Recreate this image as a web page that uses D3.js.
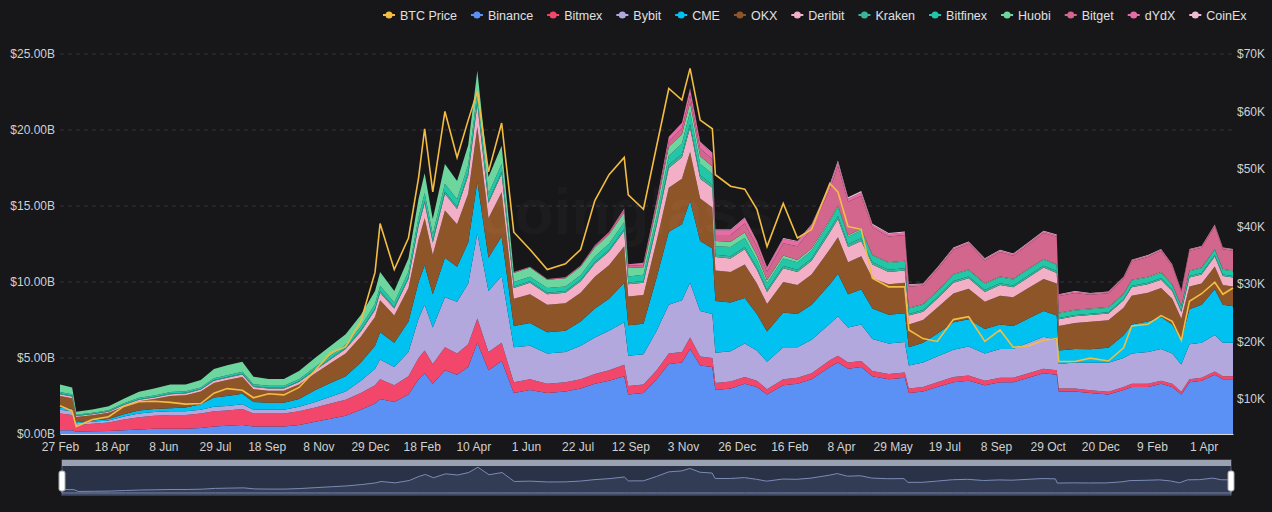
<!DOCTYPE html>
<html>
<head>
<meta charset="utf-8">
<script src="https://cdn.jsdelivr.net/npm/d3@7"></script>
<style>
  body { margin: 0; background: #17171a; }
  svg text { font-family: "Liberation Sans", Arial, sans-serif; }
</style>
</head>
<body>
<div id="chart"></div>
<script>
const width = 1272
const height = 512
const margin = { top: 54, right: 39, bottom: 78, left: 60 }
const chartWidth = width - margin.left - margin.right
const chartHeight = height - margin.top - margin.bottom

const keys = ['Binance', 'Bitmex', 'Bybit', 'CME', 'OKX', 'Deribit', 'Kraken', 'Bitfinex', 'Huobi', 'Bitget', 'dYdX', 'CoinEx']

const colors = {
  'BTC Price': '#f2bd42',
  Binance: '#5b91f5',
  Bitmex: '#f2466b',
  Bybit: '#b3a8de',
  CME: '#00c1f0',
  OKX: '#8e5529',
  Deribit: '#f3afc6',
  Kraken: '#3bb39a',
  Bitfinex: '#22c7a9',
  Huobi: '#6dd69f',
  Bitget: '#d3668d',
  dYdX: '#e66ba6',
  CoinEx: '#f1bcd3'
}

// open interest in $B per exchange, BTC price in $K
const rows = [
  ['2020-02-27', .25, 1.1, .25, .15, .75, .12, .04, .1, .5, 0, 0, 0, 8.8],
  ['2020-03-10', .25, 1.0, .25, .15, .7, .12, .04, .1, .45, 0, 0, 0, 7.9],
  ['2020-03-14', .15, .45, .1, .07, .35, .06, .03, .06, .2, 0, 0, 0, 5.2],
  ['2020-03-30', .18, .5, .12, .08, .35, .07, .03, .06, .22, 0, 0, 0, 6.4],
  ['2020-04-15', .2, .55, .14, .1, .4, .08, .03, .07, .25, 0, 0, 0, 6.9],
  ['2020-04-30', .25, .7, .2, .15, .5, .1, .04, .08, .3, 0, 0, 0, 8.7],
  ['2020-05-15', .3, .8, .25, .2, .6, .1, .04, .09, .4, 0, 0, 0, 9.5],
  ['2020-05-30', .35, .85, .25, .2, .65, .1, .04, .1, .45, 0, 0, 0, 9.6],
  ['2020-06-15', .35, .9, .25, .2, .8, .12, .04, .1, .5, 0, 0, 0, 9.4],
  ['2020-06-30', .35, .9, .25, .25, .8, .12, .04, .1, .45, 0, 0, 0, 9.1],
  ['2020-07-15', .4, .95, .25, .35, .85, .12, .04, .1, .5, 0, 0, 0, 9.2],
  ['2020-07-28', .5, 1.0, .3, .6, .95, .15, .05, .12, .6, 0, 0, 0, 11.0],
  ['2020-08-10', .55, 1.0, .3, .65, 1.05, .15, .05, .12, .65, 0, 0, 0, 11.8],
  ['2020-08-25', .6, 1.05, .3, .7, 1.1, .17, .05, .13, .65, 0, 0, 0, 11.5],
  ['2020-09-05', .5, .85, .25, .5, .85, .15, .05, .12, .5, 0, 0, 0, 10.2],
  ['2020-09-20', .5, .85, .25, .45, .8, .15, .05, .12, .45, 0, 0, 0, 10.9],
  ['2020-10-05', .5, .85, .25, .45, .8, .15, .05, .12, .45, 0, 0, 0, 10.7],
  ['2020-10-20', .6, .9, .3, .5, .95, .17, .05, .13, .55, 0, 0, 0, 12.0],
  ['2020-11-05', .8, .95, .35, .8, 1.1, .2, .06, .15, .6, 0, 0, 0, 15.0],
  ['2020-11-20', 1.0, 1.0, .45, .9, 1.3, .25, .06, .18, .65, 0, 0, 0, 18.0],
  ['2020-12-05', 1.2, 1.05, .55, 1.0, 1.5, .3, .07, .2, .7, 0, 0, 0, 19.1],
  ['2020-12-20', 1.6, 1.1, .8, 1.2, 1.7, .35, .08, .25, .75, 0, 0, 0, 23.5],
  ['2021-01-03', 2.0, 1.2, 1.1, 1.5, 1.9, .45, .1, .3, .85, 0, 0, 0, 32.0],
  ['2021-01-08', 2.3, 1.3, 1.3, 1.8, 2.1, .5, .1, .35, .9, 0, 0, 0, 40.5],
  ['2021-01-22', 2.1, 1.1, 1.2, 1.6, 1.8, .45, .1, .3, .75, 0, 0, 0, 32.5],
  ['2021-02-05', 2.6, 1.2, 1.6, 2.0, 2.2, .6, .12, .35, .9, 0, 0, 0, 38.0],
  ['2021-02-15', 3.6, 1.4, 2.6, 2.4, 2.8, .9, .15, .45, 1.2, 0, 0, 0, 48.5],
  ['2021-02-21', 4.0, 1.5, 3.0, 2.6, 3.1, 1.0, .15, .5, 1.3, 0, 0, 0, 57.0],
  ['2021-03-01', 3.3, 1.3, 2.4, 2.2, 2.6, .8, .14, .4, 1.0, 0, 0, 0, 46.0],
  ['2021-03-13', 4.2, 1.5, 3.3, 2.6, 3.1, 1.1, .16, .5, 1.3, 0, 0, 0, 60.0],
  ['2021-03-25', 3.9, 1.4, 3.4, 2.3, 2.8, 1.0, .15, .5, 1.2, 0, 0, 0, 52.0],
  ['2021-04-05', 4.4, 1.5, 4.0, 2.7, 3.2, 1.2, .17, .55, 1.3, 0, 0, 0, 58.5],
  ['2021-04-14', 6.0, 1.6, 5.6, 3.4, 3.6, 1.5, .2, .6, 1.4, 0, 0, 0, 63.5],
  ['2021-04-25', 4.2, 1.2, 4.0, 2.2, 2.6, 1.0, .15, .45, 1.1, 0, 0, 0, 49.5],
  ['2021-05-08', 4.8, 1.2, 4.4, 2.6, 2.9, 1.2, .16, .5, 1.2, 0, 0, 0, 58.0],
  ['2021-05-20', 2.7, .7, 2.3, 1.4, 1.8, .7, .1, .3, .6, .05, 0, 0, 39.0],
  ['2021-06-05', 2.9, .7, 2.2, 1.5, 1.9, .75, .1, .3, .6, .05, 0, 0, 36.0],
  ['2021-06-22', 2.7, .6, 2.0, 1.4, 1.8, .7, .1, .3, .55, .05, 0, 0, 32.5],
  ['2021-07-10', 2.8, .6, 2.0, 1.4, 1.8, .7, .1, .3, .55, .06, 0, 0, 33.5],
  ['2021-07-25', 3.0, .6, 2.2, 1.6, 1.9, .75, .1, .3, .55, .08, 0, 0, 36.0],
  ['2021-08-08', 3.3, .65, 2.4, 1.9, 2.1, .85, .12, .35, .6, .1, .05, 0, 44.5],
  ['2021-08-22', 3.5, .7, 2.6, 2.1, 2.2, .9, .12, .4, .6, .12, .05, 0, 49.0],
  ['2021-09-06', 3.8, .75, 2.8, 2.6, 2.4, 1.0, .13, .45, .65, .15, .1, 0, 52.0],
  ['2021-09-10', 2.6, .55, 2.0, 2.0, 1.9, .8, .12, .4, .55, .15, .1, 0, 45.5],
  ['2021-09-25', 2.7, .55, 2.0, 2.0, 1.9, .8, .12, .4, .5, .15, .15, 0, 43.0],
  ['2021-10-08', 3.6, .6, 2.6, 3.5, 2.4, 1.0, .15, .5, .55, .25, .2, 0, 54.0],
  ['2021-10-20', 4.6, .7, 3.2, 4.8, 2.9, 1.3, .2, .6, .6, .35, .3, 0, 64.0],
  ['2021-11-02', 4.7, .7, 3.4, 5.0, 3.0, 1.4, .22, .7, .6, .4, .35, 0, 62.0],
  ['2021-11-10', 5.6, .75, 3.6, 5.4, 3.2, 1.6, .25, .8, .6, .5, .4, .05, 67.5],
  ['2021-11-20', 4.5, .6, 3.0, 4.6, 2.8, 1.3, .22, .75, .5, .5, .4, .05, 58.5],
  ['2021-12-02', 4.4, .6, 2.9, 4.3, 2.7, 1.3, .2, .7, .5, .5, .35, .05, 57.0],
  ['2021-12-05', 2.9, .45, 2.0, 3.4, 2.0, .9, .15, .55, .35, .4, .3, .05, 49.0],
  ['2021-12-20', 3.0, .45, 2.0, 3.2, 2.0, .9, .15, .6, .35, .45, .3, .05, 47.0],
  ['2022-01-03', 3.3, .45, 2.2, 3.0, 2.2, 1.0, .15, .6, .35, .6, .35, .05, 46.5],
  ['2022-01-15', 3.1, .4, 2.0, 2.4, 2.0, .9, .15, .5, .3, .6, .3, .05, 43.0],
  ['2022-01-25', 2.6, .35, 1.8, 2.0, 1.8, .8, .12, .45, .2, .55, .25, .05, 36.5],
  ['2022-02-10', 3.2, .4, 2.1, 2.3, 2.0, .9, .15, .5, .2, .8, .3, .05, 44.0],
  ['2022-02-24', 3.3, .4, 2.0, 2.2, 1.9, .85, .15, .5, .15, .9, .3, .05, 38.0],
  ['2022-03-10', 3.6, .4, 2.2, 2.3, 2.0, .9, .15, .5, .15, 1.3, .25, .05, 39.5],
  ['2022-03-28', 4.4, .45, 2.4, 2.6, 2.3, 1.1, .2, .55, .1, 2.0, .25, .1, 47.5],
  ['2022-04-05', 4.7, .45, 2.6, 2.8, 2.4, 1.2, .2, .6, .1, 2.6, .25, .1, 46.0],
  ['2022-04-15', 4.3, .4, 2.3, 2.2, 2.1, 1.0, .18, .5, .1, 2.2, .2, .1, 40.0],
  ['2022-04-28', 4.4, .4, 2.4, 2.3, 2.2, 1.0, .18, .5, .1, 2.2, .2, .1, 39.5],
  ['2022-05-09', 3.8, .35, 2.1, 2.0, 2.0, .9, .15, .45, .05, 1.8, .15, .08, 31.0],
  ['2022-05-25', 3.6, .35, 2.0, 1.9, 2.0, .8, .15, .45, .05, 1.7, .15, .08, 29.5],
  ['2022-06-10', 3.7, .35, 2.0, 1.9, 2.0, .8, .15, .45, .05, 1.7, .15, .08, 29.5],
  ['2022-06-14', 2.7, .3, 1.5, 1.2, 1.5, .6, .1, .35, .05, 1.4, .1, .05, 22.0],
  ['2022-06-28', 2.8, .3, 1.6, 1.3, 1.5, .55, .1, .35, .05, 1.2, .1, .05, 20.5],
  ['2022-07-12', 3.1, .3, 1.7, 1.5, 1.7, .6, .1, .35, .05, 1.4, .1, .05, 20.0],
  ['2022-07-28', 3.4, .35, 1.8, 1.8, 1.9, .7, .12, .4, .05, 1.6, .1, .05, 23.8],
  ['2022-08-12', 3.5, .35, 1.9, 1.8, 2.0, .7, .12, .4, .05, 1.7, .1, .05, 24.3],
  ['2022-08-28', 3.2, .3, 1.8, 1.6, 1.8, .65, .12, .4, .05, 1.5, .1, .05, 20.0],
  ['2022-09-12', 3.4, .3, 1.9, 1.6, 1.9, .7, .12, .4, .05, 1.6, .1, .05, 22.0],
  ['2022-09-25', 3.4, .3, 1.9, 1.5, 1.9, .65, .12, .4, .05, 1.5, .1, .05, 19.0],
  ['2022-10-10', 3.7, .3, 2.0, 1.6, 2.0, .7, .12, .4, .05, 1.6, .1, .05, 19.2],
  ['2022-10-25', 4.0, .3, 2.1, 1.7, 2.1, .75, .12, .4, .05, 1.7, .1, .05, 20.2],
  ['2022-11-07', 3.9, .3, 2.0, 1.6, 2.1, .7, .12, .4, .05, 1.8, .1, .05, 20.5],
  ['2022-11-09', 2.8, .2, 1.6, .9, 1.6, .45, .08, .3, .05, 1.1, .08, .04, 16.5],
  ['2022-11-25', 2.8, .2, 1.7, .9, 1.7, .45, .08, .3, .05, 1.1, .08, .04, 16.5],
  ['2022-12-10', 2.7, .18, 1.8, .9, 1.8, .45, .08, .3, .05, .9, .08, .04, 17.1],
  ['2022-12-28', 2.6, .18, 1.9, 1.0, 1.8, .45, .08, .3, .05, .9, .08, .04, 16.6],
  ['2023-01-12', 2.9, .2, 1.9, 1.5, 1.8, .5, .08, .3, .05, 1.0, .08, .04, 18.9],
  ['2023-01-20', 3.1, .2, 2.0, 1.9, 1.9, .55, .1, .35, .05, 1.2, .08, .04, 22.7],
  ['2023-02-05', 3.1, .2, 2.1, 2.0, 1.9, .55, .1, .35, .05, 1.3, .08, .04, 23.0],
  ['2023-02-18', 3.3, .2, 2.1, 2.1, 1.9, .55, .1, .35, .05, 1.4, .08, .04, 24.5],
  ['2023-03-01', 3.1, .2, 2.0, 1.9, 1.7, .5, .1, .3, .05, 1.2, .08, .04, 23.5],
  ['2023-03-10', 2.6, .18, 1.8, 1.6, 1.4, .45, .08, .28, .05, .9, .08, .04, 20.2],
  ['2023-03-18', 3.4, .2, 2.3, 2.3, 1.5, .6, .1, .3, .05, 1.3, .08, .04, 27.0],
  ['2023-03-30', 3.5, .2, 2.3, 2.5, 1.4, .6, .1, .3, .05, 1.3, .08, .04, 28.3],
  ['2023-04-12', 3.9, .22, 2.4, 3.0, 1.5, .65, .1, .35, .05, 1.5, .08, .04, 30.3],
  ['2023-04-20', 3.6, .2, 2.2, 2.5, 1.3, .6, .1, .3, .05, 1.3, .08, .04, 28.2],
  ['2023-04-30', 3.6, .2, 2.2, 2.4, 1.3, .6, .1, .3, .05, 1.3, .08, .04, 29.3]
]

const parse = d3.timeParse('%Y-%m-%d')
const data = rows.map((r) => {
  const d = { date: parse(r[0]), btc: r[13] * 1000 }
  keys.forEach((k, i) => { d[k] = r[i + 1] * 1e9 })
  d.total = d3.sum(keys, (k) => d[k])
  return d
})

const tickDates = ['2020-02-27', '2020-04-18', '2020-06-08', '2020-07-29', '2020-09-18', '2020-11-08',
  '2020-12-29', '2021-02-18', '2021-04-10', '2021-06-01', '2021-07-22', '2021-09-12', '2021-11-03',
  '2021-12-26', '2022-02-16', '2022-04-08', '2022-05-29', '2022-07-19', '2022-09-08', '2022-10-29',
  '2022-12-20', '2023-02-09', '2023-04-01'].map(parse)

const xScale = d3.scaleTime()
  .domain([parse('2020-02-27'), parse('2023-04-30')])
  .range([0, chartWidth])

const yScale = d3.scaleLinear().domain([0, 25e9]).range([chartHeight, 0])
const yPrice = d3.scaleLinear().domain([3900, 70000]).range([chartHeight, 0])

const svg = d3.select('#chart').append('svg')
  .attr('width', width).attr('height', height)

const container = svg.append('g')
  .attr('transform', `translate(${margin.left},${margin.top})`)

// grid
container.append('g')
  .selectAll('line')
  .data(d3.range(5e9, 25e9 + 1, 5e9))
  .enter().append('line')
  .attr('x1', 0).attr('x2', chartWidth)
  .attr('y1', (d) => yScale(d)).attr('y2', (d) => yScale(d))
  .attr('stroke', '#333338')
  .attr('stroke-dasharray', '4,4')

// stacked areas
const series = d3.stack().keys(keys)(data)
const area = d3.area()
  .x((d) => xScale(d.data.date))
  .y0((d) => yScale(d[0]))
  .y1((d) => yScale(d[1]))

container.append('g')
  .selectAll('path')
  .data(series)
  .enter().append('path')
  .attr('d', area)
  .attr('fill', (d) => colors[d.key])

// watermark
container.append('text')
  .attr('x', chartWidth / 2 - 20).attr('y', chartHeight / 2 - 10)
  .attr('text-anchor', 'middle')
  .attr('font-size', 64).attr('font-weight', 'bold')
  .attr('fill', 'rgba(255,255,255,0.025)')
  .text('coinglass')

// btc price
const line = d3.line()
  .x((d) => xScale(d.date))
  .y((d) => yPrice(d.btc))

container.append('path')
  .datum(data)
  .attr('d', line)
  .attr('fill', 'none')
  .attr('stroke', colors['BTC Price'])
  .attr('stroke-width', 1.6)

// axes
const xAxis = d3.axisBottom(xScale)
  .tickValues(tickDates)
  .tickFormat(d3.timeFormat('%-d %b'))
  .tickSize(0)
  .tickPadding(8)

const gx = container.append('g')
  .attr('transform', `translate(0,${chartHeight})`)
  .call(xAxis)
gx.select('.domain').attr('stroke', '#dcdcdc')

const gy = container.append('g')
  .call(d3.axisLeft(yScale)
    .tickValues(d3.range(0, 25e9 + 1, 5e9))
    .tickFormat((d) => '$' + (d / 1e9).toFixed(2) + 'B')
    .tickSize(0).tickPadding(5))
gy.select('.domain').remove()

const gy2 = container.append('g')
  .attr('transform', `translate(${chartWidth},0)`)
  .call(d3.axisRight(yPrice)
    .tickValues(d3.range(10000, 70001, 10000))
    .tickFormat((d) => '$' + d / 1000 + 'K')
    .tickSize(0).tickPadding(4))
gy2.select('.domain').remove()

svg.selectAll('.tick text')
  .attr('fill', '#d0d0d0')
  .attr('font-size', 12)

// legend
const legendItems = ['BTC Price'].concat(keys)
const legend = svg.append('g').attr('transform', 'translate(383,15)')
let lx = 0
legendItems.forEach((name) => {
  const g = legend.append('g').attr('transform', `translate(${lx},0)`)
  g.append('line').attr('x1', 0).attr('x2', 12).attr('y1', 0).attr('y2', 0)
    .attr('stroke', colors[name]).attr('stroke-width', 2)
  g.append('circle').attr('cx', 6).attr('cy', 0).attr('r', 3.5).attr('fill', colors[name])
  const t = g.append('text').attr('x', 17).attr('y', 4.5)
    .attr('font-size', 12.5).attr('fill', '#e0e0e0').text(name)
  lx += 17 + t.node().getComputedTextLength() + 14
})

// data zoom slider
const slider = svg.append('g').attr('transform', `translate(${margin.left + 2},460)`)
const sw = chartWidth - 4
slider.append('rect').attr('width', sw).attr('height', 35)
  .attr('fill', '#2a3247').attr('stroke', '#59627a')
slider.append('rect').attr('width', sw).attr('height', 6).attr('fill', '#9aa2b1')
const miniX = d3.scaleTime().domain(xScale.domain()).range([0, sw])
const miniY = d3.scaleLinear().domain([0, 25e9]).range([33, 6])
slider.append('path')
  .datum(data)
  .attr('d', d3.area().x((d) => miniX(d.date)).y0(33).y1((d) => miniY(d.total)))
  .attr('fill', '#323c55')
  .attr('stroke', '#7b8bb5').attr('stroke-width', 1)
slider.selectAll('.handle')
  .data([0, sw])
  .enter().append('rect')
  .attr('x', (d) => d - 3).attr('y', 11)
  .attr('width', 6).attr('height', 20).attr('rx', 2)
  .attr('fill', '#ffffff').attr('stroke', '#aaa')
</script>
</body>
</html>
